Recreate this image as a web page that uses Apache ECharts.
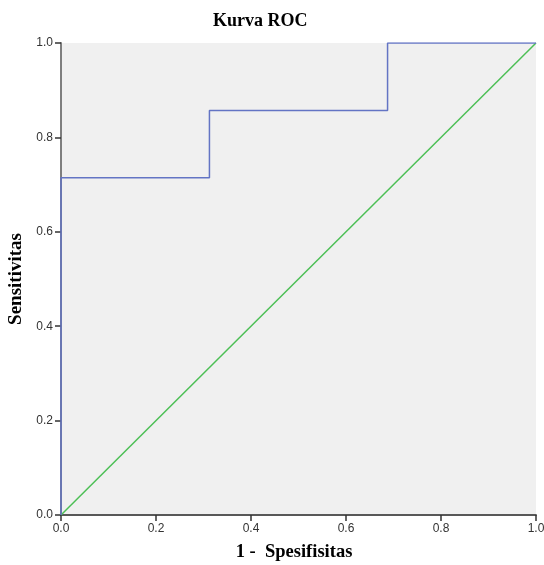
<!DOCTYPE html>
<html>
<head>
<meta charset="utf-8">
<script src="https://cdn.jsdelivr.net/npm/echarts@6/dist/echarts.min.js"></script>
<style>html,body{margin:0;padding:0;background:#fff}#c{width:544px;height:565px}</style>
</head>
<body>
<div id="c"></div>
<script>
var rocX = [0, 0, 0.3125, 0.3125, 0.6875, 0.6875, 1];
var rocY = [0, 0.7143, 0.7143, 0.8571, 0.8571, 1, 1];
var refX = [0, 1];
var refY = [0, 1];
var tickLabels = ['0.0', '0.2', '0.4', '0.6', '0.8', '1.0'];

function pairs(xs, ys) { return xs.map(function (x, i) { return [x, ys[i]]; }); }
var chart = echarts.init(document.getElementById('c'));
function labelStyle(m) {
  return { color: '#333', fontFamily: 'Arial, Liberation Sans, sans-serif', fontSize: 12, margin: m,
    formatter: function (v) { return tickLabels[Math.round(v * 5)]; } };
}
var serif = 'Liberation Serif, Times New Roman, serif';
chart.setOption({
  animation: false,
  title: { text: 'Kurva ROC', left: 208, top: 7,
    textStyle: { fontFamily: serif, fontWeight: 'bold', fontSize: 18, color: '#000' } },
  grid: { left: 61, right: 8, top: 43, bottom: 50, show: true, backgroundColor: '#f0f0f0', borderWidth: 0,
    containLabel: false, outerBoundsMode: 'none' },
  xAxis: [{
    type: 'value', min: 0, max: 1, interval: 0.2,
    name: '1 -  Spesifisitas', nameLocation: 'middle', nameGap: 28,
    nameTextStyle: { fontFamily: serif, fontWeight: 'bold', fontSize: 18.5, color: '#000', padding: [0, 9, 0, 0] },
    axisLine: { show: true, lineStyle: { color: '#333', width: 1.5 } },
    axisTick: { show: true, length: 6, lineStyle: { color: '#333', width: 1.5 } },
    axisLabel: labelStyle(8), splitLine: { show: false }
  }, {
    type: 'value', min: 0, max: 1, position: 'top',
    axisLine: { show: true, lineStyle: { color: '#555', width: 1.5 } },
    axisTick: { show: false }, axisLabel: { show: false }, splitLine: { show: false }
  }],
  yAxis: [{
    type: 'value', min: 0, max: 1, interval: 0.2,
    name: 'Sensitivitas', nameLocation: 'middle', nameGap: 35,
    nameTextStyle: { fontFamily: serif, fontWeight: 'bold', fontSize: 19, color: '#000' },
    axisLine: { show: true, lineStyle: { color: '#333', width: 1.5 } },
    axisTick: { show: true, length: 6, lineStyle: { color: '#333', width: 1.5 } },
    axisLabel: labelStyle(8), splitLine: { show: false }
  }, {
    type: 'value', min: 0, max: 1, position: 'right',
    axisLine: { show: true, lineStyle: { color: '#888', width: 1.5 } },
    axisTick: { show: false }, axisLabel: { show: false }, splitLine: { show: false }
  }],
  series: [{
    type: 'line', data: pairs(refX, refY), symbol: 'none',
    lineStyle: { color: '#4cbf55', width: 1.5 }, z: 3
  }, {
    type: 'line', data: pairs(rocX, rocY), symbol: 'none',
    lineStyle: { color: '#6374c4', width: 1.5 }, z: 4
  }]
});
</script>
</body>
</html>
